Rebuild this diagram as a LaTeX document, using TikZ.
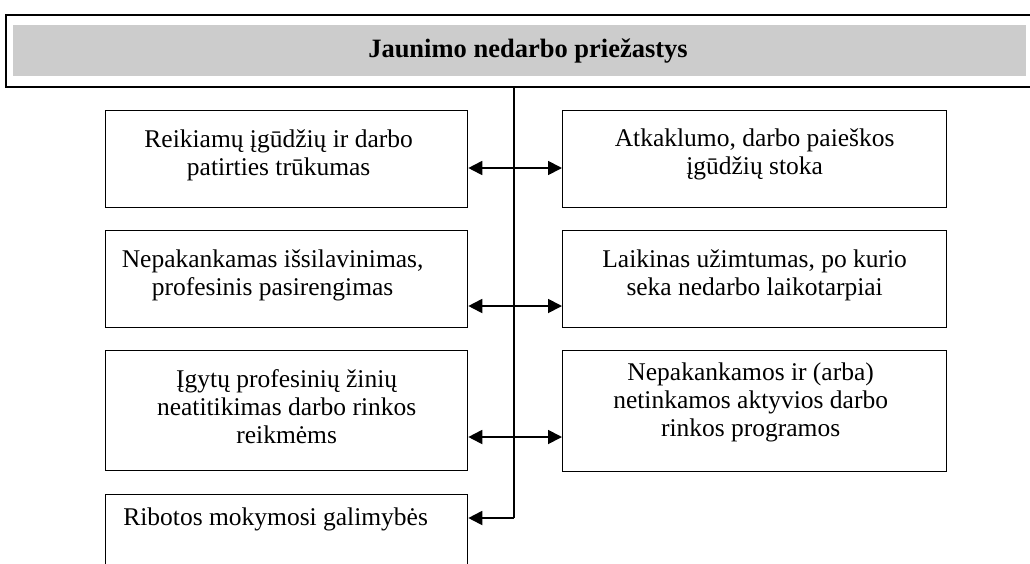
\documentclass[tikz,border=0pt]{standalone}
\usepackage{fontspec}
\setmainfont{Liberation Serif}
\usetikzlibrary{arrows.meta}

\begin{document}
\begin{tikzpicture}[x=1pt,y=-1pt,>={Triangle[length=14pt,width=14pt]},
	box/.style={draw,line width=1.3pt,inner sep=0pt,anchor=north west},
	lbox/.style={box,minimum width=362pt},
	rbox/.style={box,minimum width=384pt},
	txt/.style={anchor=north,align=center,inner sep=0pt,font=\fontsize{25.5}{28}\selectfont}]
	\useasboundingbox (0,0) rectangle (1030,563);
	\clip (0,0) rectangle (1030,563);
	% antraste
	\node[draw,line width=2pt,inner sep=0pt,anchor=north west,minimum width=1060pt,minimum height=72pt] (hdr) at (5,14) {};
	\node[fill=gray!40,inner sep=0pt,anchor=north west,minimum width=1013pt,minimum height=51pt] (band) at (13,25) {};
	\node[font=\fontsize{26.5}{30}\selectfont\bfseries,inner sep=0pt] (title) at (528,51) {Jaunimo nedarbo priežastys};
	% priezastys
	\node[lbox,minimum height=97pt] (l1) at (105,110) {};
	\node[rbox,minimum height=97pt] (r1) at (562,110) {};
	\node[lbox,minimum height=97pt] (l2) at (105,230) {};
	\node[rbox,minimum height=97pt] (r2) at (562,230) {};
	\node[lbox,minimum height=120pt] (l3) at (105,350) {};
	\node[rbox,minimum height=121pt] (r3) at (562,350) {};
	\node[lbox,minimum height=95pt] (l4) at (105,494) {};
	\node[txt] (l1t) at ([xshift=-8pt,yshift=-19.3pt]l1.north) {Reikiamų įgūdžių ir darbo\\patirties trūkumas};
	\node[txt] (r1t) at ([yshift=-18.6pt]r1.north) {Atkaklumo, darbo paieškos\\įgūdžių stoka};
	\node[txt] (l2t) at ([xshift=-14pt,yshift=-19.3pt]l2.north) {Nepakankamas išsilavinimas,\\profesinis pasirengimas};
	\node[txt] (r2t) at ([yshift=-19.3pt]r2.north) {Laikinas užimtumas, po kurio\\seka nedarbo laikotarpiai};
	\node[txt] (l3t) at ([yshift=-19.6pt]l3.north) {Įgytų profesinių žinių\\neatitikimas darbo rinkos\\reikmėms};
	\node[txt] (r3t) at ([xshift=-4pt,yshift=-12.6pt]r3.north) {Nepakankamos ir (arba)\\netinkamos aktyvios darbo\\rinkos programos};
	\node[txt] (l4t) at ([xshift=-11pt,yshift=-13.6pt]l4.north) {Ribotos mokymosi galimybės};
	% jungtys
	\coordinate (j1) at (514,168);
	\coordinate (j2) at (514,306);
	\coordinate (j3) at (514,437);
	\coordinate (j4) at (514,518);
	\draw[line width=1.3pt] (hdr.south -| j1) -- (j4);
	\draw[line width=1.8pt,<->] (l1.east |- j1) -- (r1.west |- j1);
	\draw[line width=1.8pt,<->] (l2.east |- j2) -- (r2.west |- j2);
	\draw[line width=1.8pt,<->] (l3.east |- j3) -- (r3.west |- j3);
	\draw[line width=1.8pt,->] (j4) -- (l4.east |- j4);
\end{tikzpicture}
\end{document}
